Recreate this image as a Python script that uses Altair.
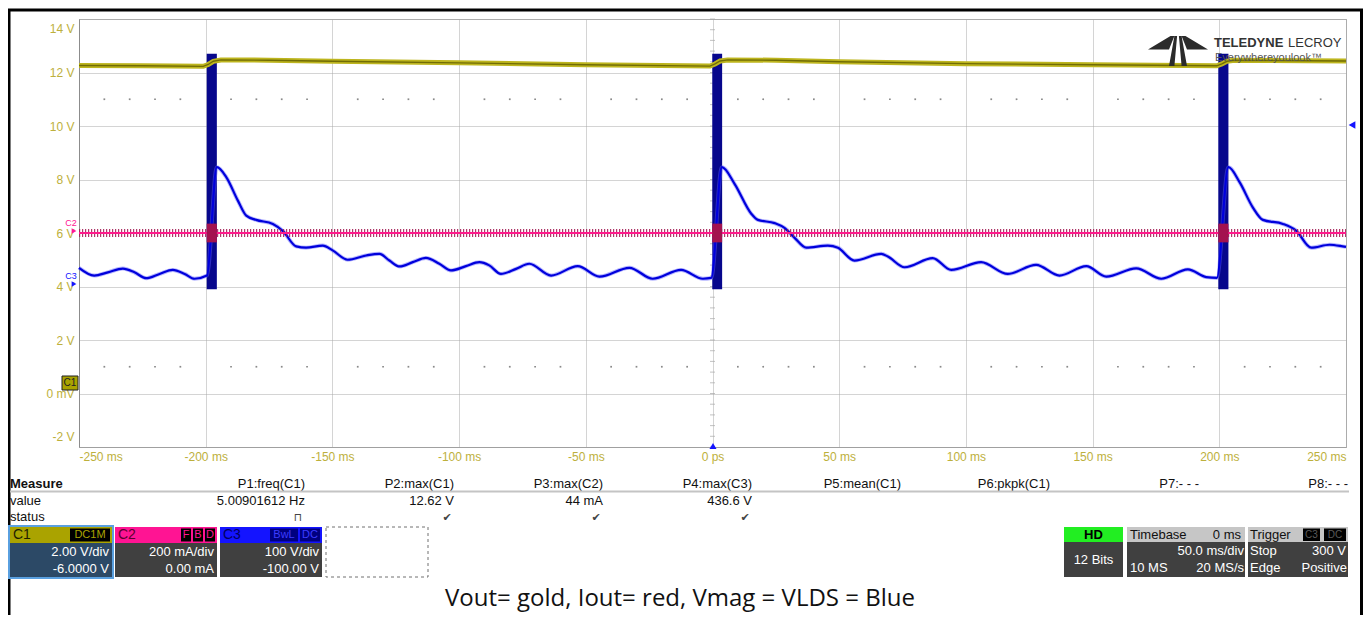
import altair as alt
import pandas as pd

# ------------------------------------------------------------------ data
x_ticks = [-250, -200, -150, -100, -50, 0, 50, 100, 150, 200, 250]
y_ticks = [-2, 0, 2, 4, 6, 8, 10, 12, 14]

# C1 (Vout, gold)  time [ms], screen volts
vout_t = [-250, -225, -201, -199, -197, -194, -175, -150, -100, -50, -1,
          1, 3, 6, 25, 50, 100, 150, 199, 201, 203, 206, 250]
vout_v = [12.26, 12.25, 12.23, 12.30, 12.42, 12.47, 12.46, 12.42, 12.36, 12.29, 12.24,
          12.32, 12.43, 12.47, 12.46, 12.40, 12.33, 12.29, 12.25, 12.32, 12.42, 12.46, 12.43]

# C2 (Iout, red) – flat trace at the screen centre
iout_t = [-250, 250]
iout_v = [6.0, 6.0]

# C3 (VLDS, blue) trace
vlds_t = [-250, -244, -238.6, -232.7, -228.1, -223.5, -218.2, -213.0, -208.3, -204.4, -199.5,
          -195.6, -191.9, -187.3, -184.0, -180.1, -173.5, -169.5, -164.3, -160.4, -153.8,
          -149.9, -144.0, -136.7, -131.4, -127.5, -123.5, -118.3, -113.1, -107.8, -103.2,
          -97.3, -92.0, -88.1, -83.5, -77.5, -72.3, -63.7, -53.2, -44.6, -32.8,
          -23.6, -12.4, -3.8, -0.5,
          3.7, 8.7, 15.3, 17.9, 24.5, 28.4, 32.4, 37.0, 45.5, 49.5,
          56.0, 66.6, 69.2, 75.8, 86.9, 94.2, 106.0, 116.5, 127.7, 136.9,
          147.5, 155.4, 167.2, 177.1, 187.6, 194.8, 199.0,
          203.6, 208.0, 213.2, 217.2, 225.1, 230.3, 236.3, 243.5, 248.7, 250]
vlds_v = [4.70, 4.41, 4.53, 4.67, 4.53, 4.31, 4.47, 4.62, 4.47, 4.29, 4.41,
          8.46, 8.09, 7.21, 6.65, 6.49, 6.34, 6.07, 5.50, 5.45, 5.53,
          5.35, 5.00, 5.16, 5.22, 4.97, 4.75, 4.91, 5.07, 4.85, 4.60,
          4.76, 4.91, 4.79, 4.47, 4.66, 4.85, 4.41, 4.76, 4.37, 4.70,
          4.29, 4.62, 4.29, 4.32,
          8.46, 7.84, 6.72, 6.49, 6.37, 6.19, 5.82, 5.45, 5.53, 5.45,
          4.97, 5.22, 5.12, 4.72, 5.06, 4.62, 4.91, 4.47, 4.81, 4.41,
          4.76, 4.37, 4.68, 4.29, 4.64, 4.35, 4.32,
          8.46, 7.90, 6.96, 6.49, 6.34, 6.09, 5.45, 5.56, 5.50, 5.48]

# C3 switching bursts (start, end in ms; low/high in screen volts)
burst_start = [-199.6, -0.1, 199.6]
burst_end = [-195.6, 3.8, 203.6]
burst_lo = [3.9, 3.9, 3.9]
burst_hi = [12.7, 12.7, 12.7]
iout_burst_lo = [5.65, 5.65, 5.65]
iout_burst_hi = [6.35, 6.35, 6.35]

# measurement table
measure_headers = ["P1:freq(C1)", "P2:max(C1)", "P3:max(C2)", "P4:max(C3)",
                   "P5:mean(C1)", "P6:pkpk(C1)", "P7:- - -", "P8:- - -"]
measure_values = ["5.00901612 Hz", "12.62 V", "44 mA", "436.6 V", "", "", "", ""]
measure_status = ["\u2293", "\u2714", "\u2714", "\u2714", "", "", "", ""]

# channel descriptors
channels = ["C1", "C2", "C3"]
ch_scale = ["2.00 V/div", "200 mA/div", "100 V/div"]
ch_offset = ["-6.0000 V", "0.00 mA", "-100.00 V"]
ch_badges = [["DC1M"], ["F", "B", "D"], ["BwL", "DC"]]

caption = "Vout= gold, Iout= red, Vmag = VLDS = Blue"

# ------------------------------------------------------------------ styles
UI = "Liberation Sans, Arial, DejaVu Sans"
GOLD_LABEL = "#bdb03c"
C1_COL = "#aaa300"
C2_COL = "#ff1493"
C3_COL = "#1414ff"

# ------------------------------------------------------------------ scope part
xaxis = alt.Axis(values=x_ticks, title=None, grid=True, gridDash=[1, 1], gridColor="#a8a8a8",
                 ticks=False, domain=True, domainColor="#a0a0a0", labelFlush=True, labelPadding=4,
                 labelColor=GOLD_LABEL, labelFont=UI, labelFontSize=12,
                 labelExpr="datum.value == 0 ? '0 ps' : datum.value + ' ms'")
yaxis = alt.Axis(values=y_ticks, title=None, grid=True, gridDash=[1, 1], gridColor="#a8a8a8",
                 ticks=False, domain=True, domainColor="#8c8c8c", labelFlush=True,
                 labelFlushOffset=-4, labelPadding=5,
                 labelColor=GOLD_LABEL, labelFont=UI, labelFontSize=12,
                 labelExpr="datum.value == 0 ? '0 mV' : datum.value + ' V'")
XS = alt.Scale(domain=[-250, 250], nice=False, zero=False)
YS = alt.Scale(domain=[-2, 14], nice=False, zero=False)
X = alt.X("t:Q", scale=XS, axis=xaxis)
Y = alt.Y("v:Q", scale=YS, axis=yaxis)

minor_t = [t for t in range(-240, 250, 10) if t % 50 != 0]
dots = pd.DataFrame({"t": minor_t * 2, "v": [11] * len(minor_t) + [1] * len(minor_t)})
center_ticks = pd.DataFrame({"t": [0] * 41, "v": [-2 + 0.4 * i for i in range(41)]})

vout = pd.DataFrame({"t": vout_t, "v": vout_v})
iout = pd.DataFrame({"t": iout_t, "v": iout_v})
vlds = pd.DataFrame({"t": vlds_t, "v": vlds_v})
bursts = pd.DataFrame({"t": burst_start, "t2": burst_end, "v": burst_lo, "v2": burst_hi})
iblobs = pd.DataFrame({"t": burst_start, "t2": burst_end, "v": iout_burst_lo, "v2": iout_burst_hi})

l_dots = alt.Chart(dots).mark_square(size=3, color="#8a8a8a", opacity=1).encode(x=X, y=Y)
l_cticks = alt.Chart(center_ticks).mark_tick(orient="horizontal", size=5, thickness=1,
                                             color="#a8a8a8").encode(x=X, y=Y)
l_bursts = alt.Chart(bursts).mark_rect(color="#07078c").encode(x=X, x2="t2:Q", y=Y, y2="v2:Q")
l_vlds_halo = alt.Chart(vlds).mark_line(color="#5a5aff", strokeWidth=4, opacity=0.45,
                                        interpolate="monotone").encode(x=X, y=Y)
l_vlds = alt.Chart(vlds).mark_line(color="#0000dc", strokeWidth=2.2,
                                   interpolate="monotone").encode(x=X, y=Y)
l_iout_hatch = alt.Chart(iout).mark_line(color="#a0154f", strokeWidth=8, strokeDash=[1.2, 1.8],
                                         opacity=0.85).encode(x=X, y=Y)
l_iout = alt.Chart(iout).mark_line(color="#ff1a8c", strokeWidth=2).encode(x=X, y=Y)
l_iblobs = alt.Chart(iblobs).mark_rect(color="#a3124f").encode(x=X, x2="t2:Q", y=Y, y2="v2:Q")
l_vout_o = alt.Chart(vout).mark_line(color="#bdb51e", strokeWidth=5).encode(x=X, y=Y)
l_vout_i = alt.Chart(vout).mark_line(color="#716c05", strokeWidth=1.4).encode(x=X, y=Y)

scope = alt.layer(l_dots, l_cticks, l_bursts, l_vlds_halo, l_vlds, l_iout_hatch, l_iout,
                  l_iblobs, l_vout_o, l_vout_i)

# ------------------------------------------------------------------ page decorations
CX = alt.Scale(domain=[0, 1371], range=[-79, 1292], nice=False, zero=False)
CY = alt.Scale(domain=[0, 623], range=[-19, 604], nice=False, zero=False)


def texts(rows, align="left", size=13, weight="normal", font=UI):
    df = pd.DataFrame(rows, columns=["px", "py", "text", "c"])
    return alt.Chart(df).mark_text(align=align, baseline="middle", fontSize=size,
                                   fontWeight=weight, font=font).encode(
        x=alt.X("px:Q", scale=CX, axis=None), y=alt.Y("py:Q", scale=CY, axis=None),
        text="text:N", color=alt.Color("c:N", scale=None))


def rects(rows, **kw):
    df = pd.DataFrame(rows, columns=["x1", "x2", "y1", "y2", "f"])
    return alt.Chart(df).mark_rect(**kw).encode(
        x=alt.X("x1:Q", scale=CX, axis=None), x2="x2:Q",
        y=alt.Y("y1:Q", scale=CY, axis=None), y2="y2:Q",
        fill=alt.Fill("f:N", scale=None))


def rules(rows, color, width, dash=None):
    df = pd.DataFrame(rows, columns=["x1", "x2", "y1", "y2"])
    kw = dict(color=color, strokeWidth=width)
    if dash:
        kw["strokeDash"] = dash
    return alt.Chart(df).mark_rule(**kw).encode(
        x=alt.X("x1:Q", scale=CX, axis=None), x2="x2:Q",
        y=alt.Y("y1:Q", scale=CY, axis=None), y2="y2:Q")


def points(rows, shape, size, color):
    df = pd.DataFrame(rows, columns=["px", "py"])
    return alt.Chart(df).mark_point(shape=shape, size=size, filled=True, color=color,
                                    opacity=1).encode(
        x=alt.X("px:Q", scale=CX, axis=None), y=alt.Y("py:Q", scale=CY, axis=None))


deco = []

# outer frame
deco.append(rules([[8, 1363, 10, 10], [9, 9, 10, 615], [1361.5, 1361.5, 10, 615]], "#000000", 3))

# logo
logo_path = ("M-1,-0.05 L-0.25,-0.5 L-0.12,-0.5 L-0.3,-0.05 Z "
             "M-0.12,-0.5 L-0.03,-0.5 L-0.12,0.5 L-0.3,0.5 L-0.2,-0.05 Z "
             "M1,-0.05 L0.25,-0.5 L0.12,-0.5 L0.3,-0.05 Z "
             "M0.12,-0.5 L0.03,-0.5 L0.12,0.5 L0.3,0.5 L0.2,-0.05 Z")
deco.append(points([[1178, 51]], logo_path, 3600, "#2b2b2b"))
deco.append(texts([[1214, 43, "TELEDYNE", "#333333"]], size=13, weight="bold"))
deco.append(texts([[1288, 43, "LECROY", "#333333"]], size=13))
deco.append(texts([[1215, 58, "Everywhereyoulook\u2122", "#555555"]], size=11))

# channel markers on the scope
deco.append(rects([[62, 78, 376, 390, C1_COL]], stroke="#202020", strokeWidth=1))
deco.append(texts([[70, 383, "C1", "#202020"]], align="center", size=10))
deco.append(texts([[71, 223, "C2", C2_COL], [71, 276, "C3", C3_COL]], align="center", size=9))
deco.append(points([[74, 231]], "triangle-right", 30, C2_COL))
deco.append(points([[74, 284]], "triangle-right", 30, C3_COL))
deco.append(points([[1352, 125]], "triangle-left", 60, C3_COL))
deco.append(points([[713, 446]], "triangle-up", 50, C3_COL))

# measurement table
col_right = [305 + 149 * i for i in range(8)]
deco.append(texts([[10, 484, "Measure", "#111111"]], size=13, weight="bold"))
deco.append(texts([[10, 501, "value", "#111111"], [10, 517, "status", "#111111"]], size=13))
deco.append(texts([[col_right[i], 484, h, "#111111"] for i, h in enumerate(measure_headers)],
                  align="right", size=13))
deco.append(texts([[col_right[i], 501, v, "#111111"] for i, v in enumerate(measure_values) if v],
                  align="right", size=13))
deco.append(texts([[col_right[i] - 7, 518, s, "#444444"] for i, s in enumerate(measure_status) if s],
                  align="center", size=11, font="DejaVu Sans"))
deco.append(rules([[10, 1349, 491.5, 491.5]], "#c4c4c4", 2))

# channel boxes
ch_head = [C1_COL, C2_COL, C3_COL]
ch_body = ["#2c4966", "#404040", "#404040"]
ch_label_col = ["#1e1e00", "#5c0030", "#000060"]
badge_bg = ["#000000", "#000000", "#000080"]
badge_fg = [C1_COL, C2_COL, "#3c3cff"]
badge_w = [[40], [10, 10, 10], [28, 20]]
box_rows, badge_rows, txt_rows, lbl_rows, btxt = [], [], [], [], []
for i in range(3):
    x0 = 10 + 105 * i
    x1 = x0 + 102
    box_rows.append([x0, x1, 527, 543, ch_head[i]])
    box_rows.append([x0, x1, 543, 577, ch_body[i]])
    lbl_rows.append([x0 + 3, 535, channels[i], ch_label_col[i]])
    txt_rows.append([x1 - 3, 552, ch_scale[i], "#ffffff"])
    txt_rows.append([x1 - 3, 569, ch_offset[i], "#ffffff"])
    right = x1 - 2
    for b, w in reversed(list(zip(ch_badges[i], badge_w[i]))):
        badge_rows.append([right - w, right, 528.5, 541.5, badge_bg[i]])
        btxt.append([right - w / 2, 535, b, badge_fg[i]])
        right -= w + 2
deco.append(rects([[8, 114, 525, 579, "#5aa0e0"]]))
deco.append(rects(box_rows))
deco.append(rects(badge_rows))
deco.append(texts(lbl_rows, size=14))
deco.append(texts(btxt, align="center", size=11))
deco.append(texts(txt_rows, align="right", size=13))
deco.append(rects([[326, 428, 527, 577, "#ffffff"]], stroke="#707070", strokeWidth=1,
                  strokeDash=[3, 3]))

# acquisition boxes (right)
acq_boxes = [
    [1064, 1123, 527, 542, "#22ee22"], [1064, 1123, 542, 577, "#404040"],
    [1127, 1245, 527, 542, "#c6c6c6"], [1127, 1245, 542, 577, "#404040"],
    [1248, 1348, 527, 542, "#c6c6c6"], [1248, 1348, 542, 577, "#404040"],
    [1303, 1320, 528.5, 541, "#000000"], [1324, 1346, 528.5, 541, "#000000"],
]
deco.append(rects(acq_boxes))
deco.append(texts([[1093.5, 535, "HD", "#000000"]], align="center", size=13, weight="bold"))
deco.append(texts([[1093.5, 560, "12 Bits", "#ffffff"]], align="center", size=13))
deco.append(texts([[1130, 535, "Timebase", "#111111"], [1250, 535, "Trigger", "#111111"]], size=13))
deco.append(texts([[1241, 535, "0 ms", "#111111"]], align="right", size=13))
deco.append(texts([[1311.5, 535, "C3", "#5a5a5a"], [1335, 535, "DC", "#5a5a5a"]],
                  align="center", size=10))
deco.append(texts([[1130, 568, "10 MS", "#ffffff"], [1250, 551, "Stop", "#ffffff"],
                   [1250, 568, "Edge", "#ffffff"]], size=13))
deco.append(texts([[1244, 551, "50.0 ms/div", "#ffffff"], [1244, 568, "20 MS/s", "#ffffff"],
                   [1346, 551, "300 V", "#ffffff"], [1347, 568, "Positive", "#ffffff"]],
                  align="right", size=13))

# caption
deco.append(texts([[680, 599, caption, "#111111"]], align="center", size=24, font="Open Sans"))

page = alt.layer(*deco)

chart = alt.layer(scope, page).resolve_scale(x="independent", y="independent").properties(
    width=1267, height=428,
    autosize=alt.AutoSizeParams(type="none"),
    padding={"left": 71, "top": 11, "right": 17, "bottom": 168},
    background="#ffffff",
).configure_view(stroke="#b0b0b0", strokeWidth=1)

chart.save("out.html", embed_options={"renderer": "svg", "actions": False})
